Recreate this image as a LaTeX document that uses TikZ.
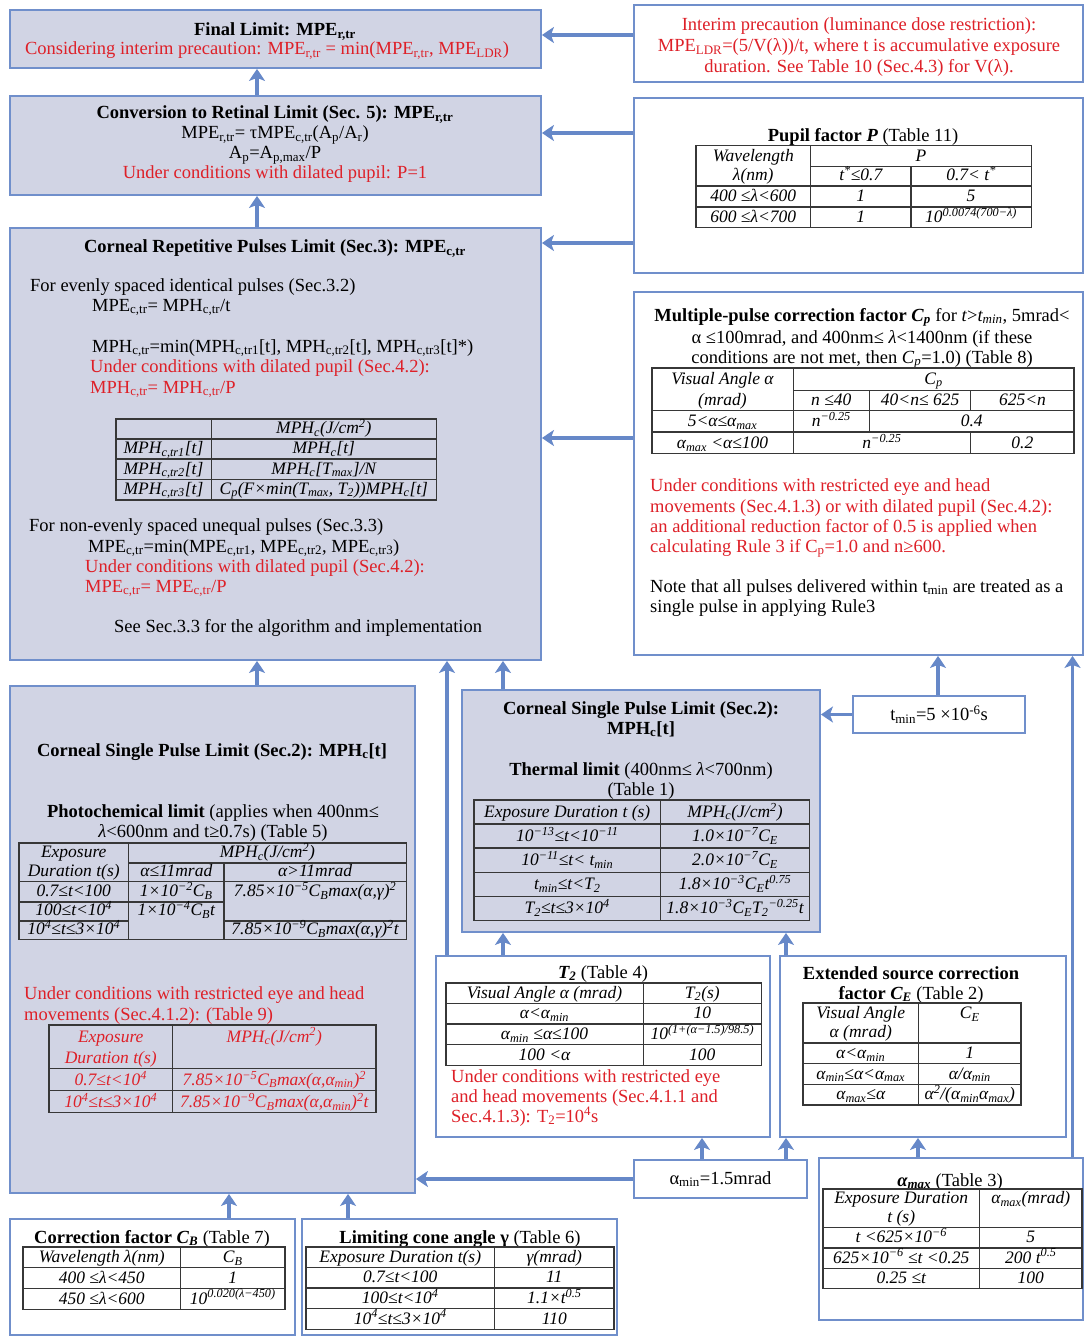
\documentclass[tikz,border=0pt]{standalone}
\usepackage{fontspec}
\setmainfont{Liberation Serif}
\usepackage{array,colortbl}
\usetikzlibrary{arrows.meta,fit}
\definecolor{boxfill}{RGB}{209,212,228}
\definecolor{boxline}{RGB}{112,143,203}
\definecolor{arrowc}{RGB}{102,136,200}
\definecolor{redt}{RGB}{222,32,40}
\definecolor{rulec}{RGB}{55,55,55}
\newcommand\sbx[1]{\textsubscript{#1}}
\newcommand\spx[1]{\textsuperscript{#1}}
\newlength\rsh \newlength\rsd
\setlength\rsd{4.5pt}
\newcommand\rs{\rule[-\rsd]{0pt}{\rsh}}
\newcommand\setrs[1]{\setlength\rsh{#1pt}}
\newcolumntype{Y}[1]{>{\centering\arraybackslash\rs}p{#1}}
\newcommand\bodyfont{\fontsize{18.5}{20}\selectfont}
\newcommand\tabfont{\fontsize{17.5}{19}\selectfont\itshape}
\setlength\tabcolsep{0pt}
\setlength\arrayrulewidth{1.3pt}
\arrayrulecolor{rulec}
\renewcommand\arraystretch{0.5}
\begin{document}
\begin{tikzpicture}[x=1pt,y=-1pt,
  box/.style={draw=boxline, line width=1.8pt, fill=boxfill, inner sep=0pt},
  wbox/.style={box, fill=white},
  lbl/.style={inner sep=0pt, font=\bodyfont},
  tab/.style={inner sep=0pt, anchor=north west, font=\tabfont},
  arr/.style={draw=arrowc, line width=3.5pt, -{Stealth[length=12pt,width=16pt,inset=3pt]}}]
\useasboundingbox (0,0) rectangle (1084,1337);
% boxes
\node[box, fit={(10,10) (541,68)}] (final) {};
\node[wbox, fit={(634,5) (1083,82)}] (interim) {};
\node[box, fit={(10,96) (541,195)}] (conv) {};
\node[wbox, fit={(634,98) (1083,273)}] (pupil) {};
\node[box, fit={(10,228) (541,660)}] (rep) {};
\node[wbox, fit={(634,292) (1083,655)}] (mp) {};
\node[box, fit={(10,686) (415,1193)}] (csp) {};
\node[box, fit={(462,690) (820,932)}] (thm) {};
\node[wbox, fit={(853,696) (1025,733)}] (tmin) {};
\node[wbox, fit={(436,956) (770,1137)}] (tt) {};
\node[wbox, fit={(780,956) (1066,1137)}] (ext) {};
\node[wbox, fit={(634,1160) (807,1198)}] (amin) {};
\node[wbox, fit={(819,1158) (1083,1320)}] (amax) {};
\node[wbox, fit={(10,1219) (295,1335)}] (cb) {};
\node[wbox, fit={(302,1219) (617,1335)}] (cone) {};
% final
\node[lbl, anchor=base] (fl1) at (275,36) {\textbf{Final Limit: MPE\sbx{r,tr}}};
\node[lbl, anchor=base, text=redt] (fl2) at (267,55) {Considering interim precaution: MPE\sbx{r,tr} = min(MPE\sbx{r,tr}, MPE\sbx{LDR})};
% interim
\node[lbl, anchor=base, text=redt] (in1) at (859,31) {Interim precaution (luminance dose restriction):};
\node[lbl, anchor=base, text=redt] (in2) at (859,52) {MPE\sbx{LDR}=(5/V(λ))/t, where t is accumulative exposure};
\node[lbl, anchor=base, text=redt] (in3) at (859,73) {duration. See Table 10 (Sec.4.3) for V(λ).};
% conversion
\node[lbl, anchor=base] (cv1) at (275,119) {\textbf{Conversion to Retinal Limit (Sec. 5): MPE\sbx{r,tr}}};
\node[lbl, anchor=base] (cv2) at (275,139) {MPE\sbx{r,tr}= τMPE\sbx{c,tr}(A\sbx{p}/A\sbx{r})};
\node[lbl, anchor=base] (cv3) at (275,159) {A\sbx{p}=A\sbx{p,max}/P};
\node[lbl, anchor=base, text=redt] (cv4) at (275,179) {Under conditions with dilated pupil: P=1};
% pupil
\node[lbl, anchor=base] (pu1) at (863,142) {\textbf{Pupil factor \textit{P}} (Table 11)};
\node[tab] (tpupil) at (695,145) {\setrs{19.5}\begin{tabular}{|Y{113.5pt}|Y{99pt}|Y{119pt}|}\hline
Wavelength & \multicolumn{2}{c|}{P}\\\cline{2-3}
λ(nm) & t\spx{*}≤0.7 & 0.7< t\spx{*}\\\hline
400 ≤λ<600 & 1 & 5\\\hline
600 ≤λ<700 & 1 & 10\spx{0.0074(700−λ)}\\\hline
\end{tabular}};
% repetitive
\node[lbl, anchor=base] (rp0) at (275,253) {\textbf{Corneal Repetitive Pulses Limit (Sec.3): MPE\sbx{c,tr}}};
\node[lbl, anchor=base west] (rp1) at (30,291) {For evenly spaced identical pulses (Sec.3.2)};
\node[lbl, anchor=base west] (rp2) at (92,311) {MPE\sbx{c,tr}= MPH\sbx{c,tr}/t};
\node[lbl, anchor=base west] (rp3) at (92,352) {MPH\sbx{c,tr}=min(MPH\sbx{c,tr1}[t], MPH\sbx{c,tr2}[t], MPH\sbx{c,tr3}[t]*)};
\node[lbl, anchor=base west, text=redt] (rp4) at (90,372) {Under conditions with dilated pupil (Sec.4.2):};
\node[lbl, anchor=base west, text=redt] (rp5) at (90,393) {MPH\sbx{c,tr}= MPH\sbx{c,tr}/P};
\node[tab] (trep) at (115,418) {\setrs{18.8}\begin{tabular}{|Y{94pt}|Y{224pt}|}\hline
 & MPH\sbx{c}(J/cm\spx{2})\\\hline
MPH\sbx{c,tr1}[t] & MPH\sbx{c}[t]\\\hline
MPH\sbx{c,tr2}[t] & MPH\sbx{c}[T\sbx{max}]/N\\\hline
MPH\sbx{c,tr3}[t] & C\sbx{p}(F×min(T\sbx{max}, T\sbx{2}))MPH\sbx{c}[t]\\\hline
\end{tabular}};
\node[lbl, anchor=base west] (rp6) at (29,531) {For non-evenly spaced unequal pulses (Sec.3.3)};
\node[lbl, anchor=base west] (rp7) at (88,552) {MPE\sbx{c,tr}=min(MPE\sbx{c,tr1}, MPE\sbx{c,tr2}, MPE\sbx{c,tr3})};
\node[lbl, anchor=base west, text=redt] (rp8) at (85,572) {Under conditions with dilated pupil (Sec.4.2):};
\node[lbl, anchor=base west, text=redt] (rp9) at (85,592) {MPE\sbx{c,tr}= MPE\sbx{c,tr}/P};
\node[lbl, anchor=base west] (rp10) at (114,632) {See Sec.3.3 for the algorithm and implementation};
% multiple pulse
\node[lbl, anchor=base] (mp1) at (862,321) {\textbf{Multiple-pulse correction factor \textit{C\sbx{p}}} for \textit{t}>\textit{t\sbx{min}}, 5mrad<};
\node[lbl, anchor=base] (mp2) at (862,343) {α ≤100mrad, and 400nm≤ \textit{λ}<1400nm (if these};
\node[lbl, anchor=base] (mp3) at (862,363) {conditions are not met, then \textit{C\sbx{p}}=1.0) (Table 8)};
\node[tab] (tmp) at (651,367) {\setrs{20.3}\begin{tabular}{|Y{140pt}|Y{75pt}|Y{100pt}|Y{102pt}|}\hline
Visual Angle α & \multicolumn{3}{c|}{C\sbx{p}}\\\cline{2-4}
(mrad) & n ≤40 & 40<n≤ 625 & 625<n\\\hline
5<α≤α\sbx{max} & n\spx{−0.25} & \multicolumn{2}{c|}{0.4}\\\hline
α\sbx{max} <α≤100 & \multicolumn{2}{c|}{n\spx{−0.25}} & 0.2\\\hline
\end{tabular}};
\node[lbl, anchor=base west, text=redt] (mp4) at (650,491) {Under conditions with restricted eye and head};
\node[lbl, anchor=base west, text=redt] (mp5) at (650,512) {movements (Sec.4.1.3) or with dilated pupil (Sec.4.2):};
\node[lbl, anchor=base west, text=redt] (mp6) at (650,532) {an additional reduction factor of 0.5 is applied when};
\node[lbl, anchor=base west, text=redt] (mp7) at (650,552) {calculating Rule 3 if C\sbx{p}=1.0 and n≥600.};
\node[lbl, anchor=base west] (mp8) at (650,592) {Note that all pulses delivered within t\sbx{min} are treated as a};
\node[lbl, anchor=base west] (mp9) at (650,612) {single pulse in applying Rule3};
% corneal single pulse (photochemical)
\node[lbl, anchor=base] (cs1) at (212,756) {\textbf{Corneal Single Pulse Limit (Sec.2): MPH\sbx{c}[t]}};
\node[lbl, anchor=base] (cs2) at (213,817) {\textbf{Photochemical limit} (applies when 400nm≤};
\node[lbl, anchor=base] (cs3) at (213,837) {\textit{λ}<600nm and t≥0.7s) (Table 5)};
\node[tab] (tphc) at (18,842) {\setrs{18.8}\begin{tabular}{|Y{108.5pt}|Y{94pt}|Y{181pt}|}\hline
Exposure & \multicolumn{2}{c|}{MPH\sbx{c}(J/cm\spx{2})}\\\cline{2-3}
Duration t(s) & α≤11mrad & α>11mrad\\\hline
0.7≤t<100 & 1×10\spx{−2}C\sbx{B} & 7.85×10\spx{−5}C\sbx{B}max(α,γ)\spx{2}\\\cline{1-2}
100≤t<10\spx{4} & 1×10\spx{−4}C\sbx{B}t & \\\cline{1-1}\cline{3-3}
10\spx{4}≤t≤3×10\spx{4} & & 7.85×10\spx{−9}C\sbx{B}max(α,γ)\spx{2}t\\\hline
\end{tabular}};
\node[lbl, anchor=base west, text=redt] (cs4) at (24,999) {Under conditions with restricted eye and head};
\node[lbl, anchor=base west, text=redt] (cs5) at (24,1020) {movements (Sec.4.1.2): (Table 9)};
\node[tab] (tnine) at (48,1024) {\setrs{21}\color{redt}\begin{tabular}{|Y{122.5pt}|Y{202pt}|}\hline
Exposure & MPH\sbx{c}(J/cm\spx{2})\\
Duration t(s) & \\\hline
0.7≤t<10\spx{4} & 7.85×10\spx{−5}C\sbx{B}max(α,α\sbx{min})\spx{2}\\\hline
10\spx{4}≤t≤3×10\spx{4} & 7.85×10\spx{−9}C\sbx{B}max(α,α\sbx{min})\spx{2}t\\\hline
\end{tabular}};
% thermal
\node[lbl, anchor=base] (th1) at (641,714) {\textbf{Corneal Single Pulse Limit (Sec.2):}};
\node[lbl, anchor=base] (th2) at (641,734) {\textbf{MPH\sbx{c}[t]}};
\node[lbl, anchor=base] (th3) at (641,775) {\textbf{Thermal limit} (400nm≤ \textit{λ}<700nm)};
\node[lbl, anchor=base] (th4) at (641,795) {(Table 1)};
\node[tab] (tthm) at (473,799) {\setlength\rsd{6pt}\setrs{22.8}\begin{tabular}{|Y{185.5pt}|Y{147.5pt}|}\hline
Exposure Duration t (s) & MPH\sbx{c}(J/cm\spx{2})\\\hline
10\spx{−13}≤t<10\spx{−11} & 1.0×10\spx{−7}C\sbx{E}\\\hline
10\spx{−11}≤t< t\sbx{min} & 2.0×10\spx{−7}C\sbx{E}\\\hline
t\sbx{min}≤t<T\sbx{2} & 1.8×10\spx{−3}C\sbx{E}t\spx{0.75}\\\hline
T\sbx{2}≤t≤3×10\spx{4} & 1.8×10\spx{−3}C\sbx{E}T\sbx{2}\spx{−0.25}t\\\hline
\end{tabular}};
% tmin
\node[lbl] (tm1) at (tmin.center) {t\sbx{min}=5 ×10\spx{-6}s};
% T2
\node[lbl, anchor=base] (t21) at (603,978) {\textbf{\textit{T\sbx{2}}} (Table 4)};
\node[tab] (ttt) at (445,982) {\setrs{19.3}\begin{tabular}{|Y{196pt}|Y{117pt}|}\hline
Visual Angle α (mrad) & T\sbx{2}(s)\\\hline
α<α\sbx{min} & 10\\\hline
α\sbx{min} ≤α≤100 & 10\spx{(1+(α−1.5)/98.5)}\\\hline
100 <α & 100\\\hline
\end{tabular}};
\node[lbl, anchor=base west, text=redt] (t22) at (451,1082) {Under conditions with restricted eye};
\node[lbl, anchor=base west, text=redt] (t23) at (451,1102) {and head movements (Sec.4.1.1 and};
\node[lbl, anchor=base west, text=redt] (t24) at (451,1122) {Sec.4.1.3): T\sbx{2}=10\spx{4}s};
% extended source
\node[lbl, anchor=base] (ex1) at (911,979) {\textbf{Extended source correction}};
\node[lbl, anchor=base] (ex2) at (911,999) {\textbf{factor \textit{C\sbx{E}}} (Table 2)};
\node[tab] (text) at (802,1002) {\setrs{19.4}\begin{tabular}{|Y{114.5pt}|Y{101pt}|}\hline
Visual Angle & C\sbx{E}\\
α (mrad) & \\\hline
α<α\sbx{min} & 1\\\hline
α\sbx{min}≤α<α\sbx{max} & α/α\sbx{min}\\\hline
α\sbx{max}≤α & α\spx{2}/(α\sbx{min}α\sbx{max})\\\hline
\end{tabular}};
% alpha min
\node[lbl] (am1) at (amin.center) {α\sbx{min}=1.5mrad};
% alpha max
\node[lbl, anchor=base] (ax1) at (950,1186) {\textbf{\textit{α\sbx{max}}} (Table 3)};
\node[tab] (tamax) at (822,1188) {\setrs{18.8}\begin{tabular}{|Y{155.5pt}|Y{101pt}|}\hline
Exposure Duration & α\sbx{max}(mrad)\\
t (s) & \\\hline
t <625×10\spx{−6} & 5\\\hline
625×10\spx{−6} ≤t <0.25 & 200 t\spx{0.5}\\\hline
0.25 ≤t & 100\\\hline
\end{tabular}};
% C_B
\node[lbl, anchor=base] (cb1) at (152,1243) {\textbf{Correction factor \textit{C\sbx{B}}} (Table 7)};
\node[tab] (tcb) at (22,1246) {\setrs{19.5}\begin{tabular}{|Y{156.5pt}|Y{103pt}|}\hline
Wavelength λ(nm) & C\sbx{B}\\\hline
400 ≤λ<450 & 1\\\hline
450 ≤λ<600 & 10\spx{0.020(λ−450)}\\\hline
\end{tabular}};
% cone
\node[lbl, anchor=base] (co1) at (460,1243) {\textbf{Limiting cone angle γ} (Table 6)};
\node[tab] (tcone) at (305,1246) {\setrs{19.3}\begin{tabular}{|Y{187.5pt}|Y{118pt}|}\hline
Exposure Duration t(s) & γ(mrad)\\\hline
0.7≤t<100 & 11\\\hline
100≤t<10\spx{4} & 1.1×t\spx{0.5}\\\hline
10\spx{4}≤t≤3×10\spx{4} & 110\\\hline
\end{tabular}};
% arrows
\draw[arr] ([xshift=-18.5pt]conv.north) -- ([xshift=-18.5pt]final.south);
\draw[arr] ([xshift=-18.5pt]rep.north) -- ([xshift=-18.5pt]conv.south);
\draw[arr] ([yshift=8.5pt]interim.west) coordinate (c1) -- (c1 -| final.east);
\draw[arr] ([yshift=52.5pt]pupil.west) coordinate (c2) -- (c2 -| conv.east);
\draw[arr] ([yshift=-57.5pt]pupil.west) coordinate (c3) -- (c3 -| rep.east);
\draw[arr] ([yshift=35.5pt]mp.west) coordinate (c4) -- (c4 -| rep.east);
\draw[arr] ([xshift=44.5pt]csp.north) coordinate (c5) -- (c5 |- rep.south);
\draw[arr] ([xshift=-138pt]thm.north) coordinate (c6) -- (c6 |- rep.south);
\draw[arr] ([xshift=-156pt]tt.north) coordinate (c7) -- (c7 |- rep.south);
\draw[arr] ([xshift=-100pt]tt.north) coordinate (c8) -- (c8 |- thm.south);
\draw[arr] ([xshift=-137pt]ext.north) coordinate (c9) -- (c9 |- thm.south);
\draw[arr] (tmin.west) -- (tmin.west -| thm.east);
\draw[arr] ([xshift=-1pt]tmin.north) coordinate (c10) -- (c10 |- mp.south);
\draw[arr] ([xshift=121.5pt]amax.north) coordinate (c11) -- (c11 |- mp.south);
\draw[arr] ([xshift=-18.5pt]amin.north) coordinate (c12) -- (c12 |- tt.south);
\draw[arr] ([xshift=65.5pt]amin.north) coordinate (c13) -- (c13 |- ext.south);
\draw[arr] ([xshift=-33pt]amax.north) coordinate (c14) -- (c14 |- ext.south);
\draw[arr] (amin.west) -- (amin.west -| csp.east);
\draw[arr] ([xshift=76.5pt]cb.north) coordinate (c15) -- (c15 |- csp.south);
\draw[arr] ([xshift=-111.5pt]cone.north) coordinate (c16) -- (c16 |- csp.south);
\end{tikzpicture}
\end{document}
